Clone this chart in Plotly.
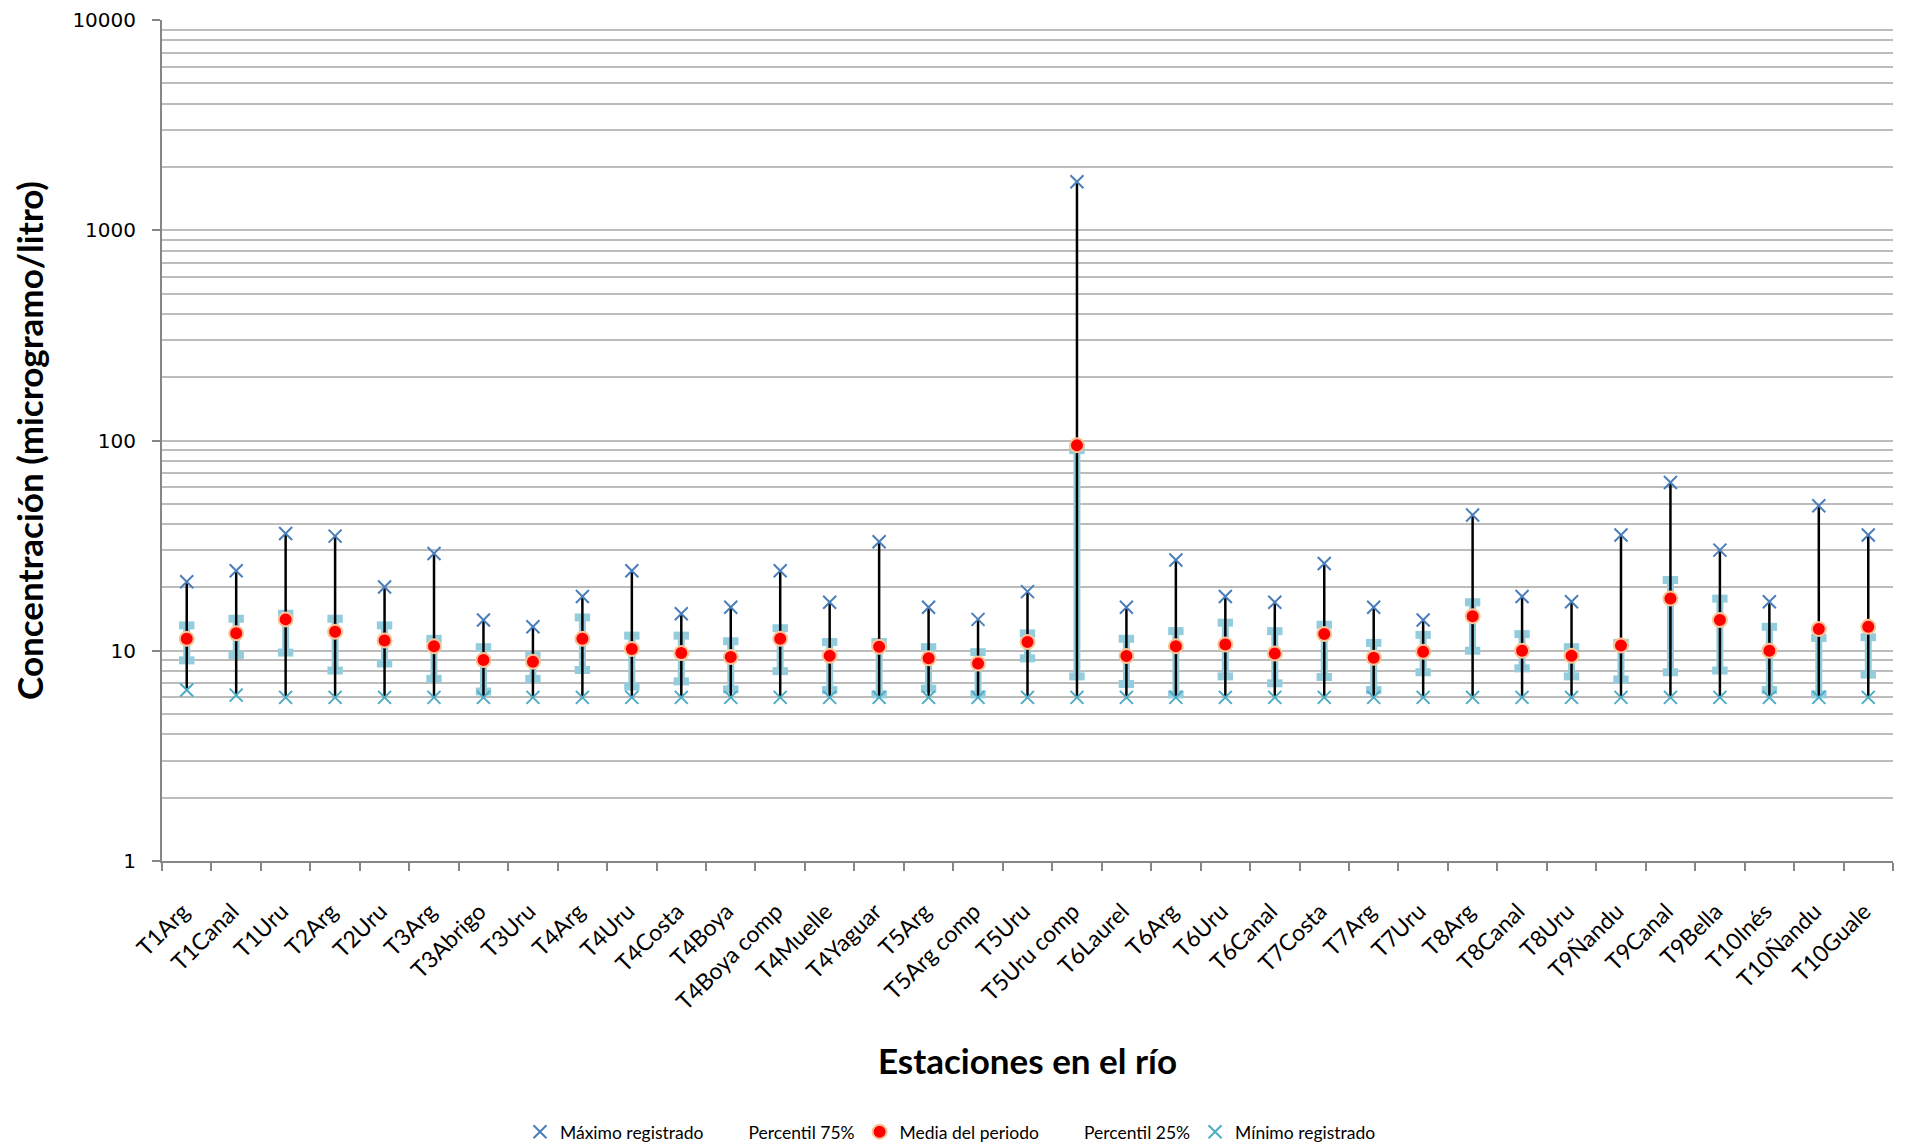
import plotly.graph_objects as go

categories = ["T1Arg", "T1Canal", "T1Uru", "T2Arg", "T2Uru", "T3Arg", "T3Abrigo", "T3Uru",
              "T4Arg", "T4Uru", "T4Costa", "T4Boya", "T4Boya comp", "T4Muelle", "T4Yaguar",
              "T5Arg", "T5Arg comp", "T5Uru", "T5Uru comp", "T6Laurel", "T6Arg", "T6Uru",
              "T6Canal", "T7Costa", "T7Arg", "T7Uru", "T8Arg", "T8Canal", "T8Uru", "T9Ñandu",
              "T9Canal", "T9Bella", "T10Inés", "T10Ñandu", "T10Guale"]

maximo = [21.3, 24.0, 36.1, 35.1, 20.1, 29.0, 14.0, 13.0, 18.1, 24.0, 15.0, 16.1, 24.0, 17.0,
          33.0, 16.1, 14.1, 19.1, 1700, 16.1, 27.0, 18.1, 17.0, 26.0, 16.1, 14.0, 44.2, 18.1,
          17.1, 35.5, 63.1, 30.1, 17.1, 48.9, 35.5]

p75 = [13.2, 14.2, 15.0, 14.2, 13.2, 11.4, 10.4, 9.5, 14.4, 11.8, 11.8, 11.1, 12.8, 11.0,
       11.0, 10.4, 9.85, 12.1, 90, 11.4, 12.4, 13.6, 12.4, 13.3, 10.9, 11.9, 17.0, 12.0,
       10.4, 10.9, 21.7, 17.7, 13.0, 11.5, 11.6]

media = [11.4, 12.1, 14.1, 12.3, 11.2, 10.5, 9.03, 8.87, 11.4, 10.2, 9.75, 9.33, 11.4, 9.47,
         10.45, 9.2, 8.7, 11.0, 95, 9.43, 10.5, 10.7, 9.7, 12.0, 9.26, 9.9, 14.6, 10.0,
         9.47, 10.6, 17.7, 14.0, 10.0, 12.7, 13.0]

p25 = [9.0, 9.55, 9.8, 8.05, 8.7, 7.35, 6.4, 7.35, 8.1, 6.75, 7.15, 6.55, 8.0, 6.5,
       6.2, 6.6, 6.2, 9.2, 7.55, 6.95, 6.2, 7.55, 7.0, 7.5, 6.5, 7.9, 10.0, 8.25,
       7.55, 7.3, 7.9, 8.05, 6.5, 6.2, 7.7]

minimo = [6.5, 6.15] + [6.0] * 33

y_ticks = [1, 10, 100, 1000, 10000]
y_minor = [m * 10 ** e for e in range(0, 4) for m in range(2, 10)]

BLUE = "#4A7EBB"
TEAL = "#4BACC6"
LB = "#93CDDD"
GRID = "#BCBCBC"
AXIS = "#868686"


def segments(lo, hi):
    xs, ys = [], []
    for c, a, b in zip(categories, lo, hi):
        xs += [c, c, None]
        ys += [a, b, None]
    return xs, ys


fig = go.Figure()

bx, by = segments(p25, p75)
fig.add_trace(go.Scatter(x=bx, y=by, mode="lines", line=dict(color=LB, width=7),
                         showlegend=False, hoverinfo="skip"))
fig.add_trace(go.Scatter(x=categories + categories, y=p75 + p25, mode="markers",
                         marker=dict(symbol="line-ew", size=11, color=LB,
                                     line=dict(width=8, color=LB)),
                         showlegend=False, hoverinfo="skip"))

hx, hy = segments(minimo, maximo)
fig.add_trace(go.Scatter(x=hx, y=hy, mode="lines", line=dict(color="black", width=2.5),
                         showlegend=False, hoverinfo="skip"))

INVIS = dict(size=1, color="rgba(0,0,0,0)", line=dict(width=0, color="rgba(0,0,0,0)"))

fig.add_trace(go.Scatter(x=categories, y=maximo, mode="markers", name="Máximo registrado",
                         marker=dict(symbol="x-thin", size=13, color=BLUE,
                                     line=dict(width=2, color=BLUE)),
                         legendrank=1))
fig.add_trace(go.Scatter(x=[None], y=[None], mode="markers", name="Percentil 75%",
                         marker=INVIS, legendrank=2))
fig.add_trace(go.Scatter(x=[None], y=[None], mode="markers", name="Percentil 25%",
                         marker=INVIS, legendrank=4))
fig.add_trace(go.Scatter(x=categories, y=minimo, mode="markers", name="Mínimo registrado",
                         marker=dict(symbol="x-thin", size=13, color=TEAL,
                                     line=dict(width=2, color=TEAL)),
                         legendrank=5))
fig.add_trace(go.Scatter(x=categories, y=media, mode="markers", name="Media del periodo",
                         marker=dict(symbol="circle", size=14, color="#FF0000",
                                     line=dict(width=2, color="#F9C497")),
                         legendrank=3))

fig.update_layout(
    width=1914, height=1145,
    margin=dict(l=162, r=21, t=20, b=284, autoexpand=False),
    paper_bgcolor="white", plot_bgcolor="white",
    font=dict(family="Lato", color="black"),
    showlegend=True,
    legend=dict(orientation="h", x=0.4555, xanchor="center", y=-0.322, yanchor="middle",
                font=dict(family="Lato", size=17.5), traceorder="normal",
                bgcolor="rgba(0,0,0,0)"),
)

fig.update_xaxes(
    type="category", categoryorder="array", categoryarray=categories,
    range=[-0.5, len(categories) - 0.5],
    showline=True, linecolor=AXIS, linewidth=2,
    ticks="outside", ticklen=8, tickcolor=AXIS, tickwidth=2, tickson="boundaries",
    tickangle=-45, tickfont=dict(family="Lato", size=23), ticklabelstandoff=26,
    ticklabelshift=-4,
    showgrid=False, zeroline=False,
    title=dict(text="Estaciones en el río", font=dict(family="Lato", size=35, weight="bold"),
               standoff=36),
)

fig.update_yaxes(
    type="log", range=[0, 4],
    tickmode="array", tickvals=y_ticks, ticktext=[str(v) for v in y_ticks],
    tickfont=dict(family="DejaVu Sans", size=20), ticklabelstandoff=12,
    showline=True, linecolor=AXIS, linewidth=2,
    ticks="outside", ticklen=8, tickcolor=AXIS, tickwidth=2,
    showgrid=True, gridcolor=GRID, gridwidth=1.5,
    minor=dict(tickmode="array", tickvals=y_minor, showgrid=True, gridcolor=GRID,
               gridwidth=1.5, ticks=""),
    zeroline=False,
    title=dict(text="Concentración (microgramo/litro)",
               font=dict(family="Lato", size=35, weight="bold"), standoff=18),
)

fig.write_html("out.html", config={"displayModeBar": False},
               post_script="document.body.style.margin='0px';")
